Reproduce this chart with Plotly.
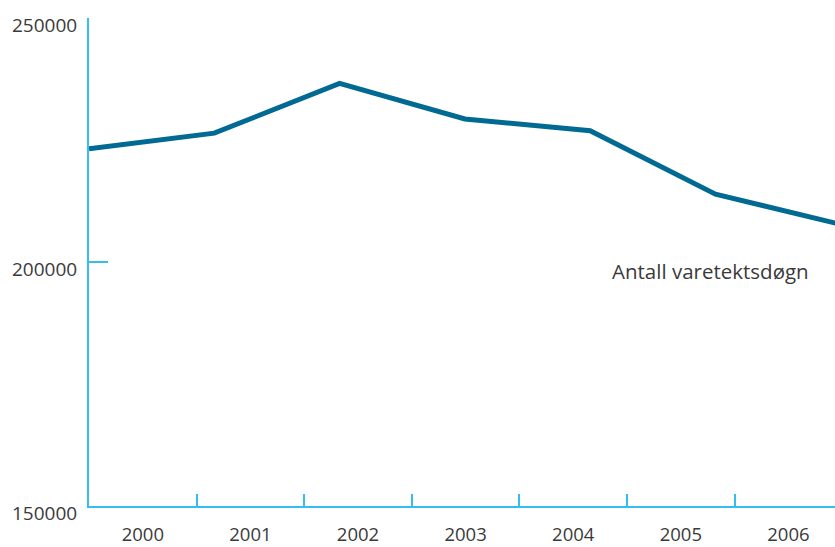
import plotly.graph_objects as go

years = ["2000", "2001", "2002", "2003", "2004", "2005", "2006"]
values = [223200, 226400, 236600, 229300, 226900, 213900, 207700]
y_ticks = [150000, 200000, 250000]
series_label = "Antall varetektsdøgn"

AXIS = "#35bdf0"
LINE = "#006a92"
TEXT = "#3a3a3a"
FONT = "Open Sans"

fig = go.Figure()
# invisible trace to register the category bands on the labelled axis
fig.add_trace(go.Scatter(x=years, y=values, mode="markers", marker=dict(opacity=0),
                         hoverinfo="skip", showlegend=False, xaxis="x", yaxis="y"))
fig.add_trace(go.Scatter(x=years, y=values, mode="lines", line=dict(color=LINE, width=5),
                         showlegend=False, xaxis="x2", yaxis="y"))

fig.update_layout(
    template="none",
    width=835, height=547,
    margin=dict(l=89, r=0, t=18, b=40.5, autoexpand=False),
    paper_bgcolor="white", plot_bgcolor="white",
    font=dict(family=FONT, size=18.5, color=TEXT),
    xaxis=dict(type="category", categoryarray=years, categoryorder="array",
               range=[-0.5, 6.433], tickson="boundaries", ticks="inside", ticklen=12,
               tickcolor=AXIS, tickwidth=2, showline=True, linecolor=AXIS, linewidth=2,
               showgrid=False, zeroline=False, ticklabelstandoff=11, automargin=False,
               tickfont=dict(family=FONT, size=18.5, color=TEXT)),
    xaxis2=dict(type="category", categoryarray=years, categoryorder="array",
                range=[0, 5.954], overlaying="x", anchor="y", visible=False),
    yaxis=dict(range=[150000, 250000], tickvals=y_ticks, showticklabels=False,
               ticks="inside", ticklen=19, tickcolor=AXIS, tickwidth=2, automargin=False,
               showline=True, linecolor=AXIS, linewidth=2, showgrid=False, zeroline=False),
)

for t in y_ticks:
    fig.add_annotation(x=0, xref="paper", y=t, yref="y", text=str(t), showarrow=False,
                       xanchor="right", yanchor="middle", xshift=-10, yshift=-7,
                       font=dict(family=FONT, size=19, color=TEXT))

fig.add_annotation(x=0.698, xref="paper", y=198200, yref="y", text=series_label,
                   showarrow=False, xanchor="left", yanchor="middle",
                   font=dict(family=FONT, size=20.5, color=TEXT))

fig.write_html("out.html", config={"responsive": False, "displayModeBar": False},
               post_script="document.body.style.margin='0';document.body.style.overflow='hidden';")
